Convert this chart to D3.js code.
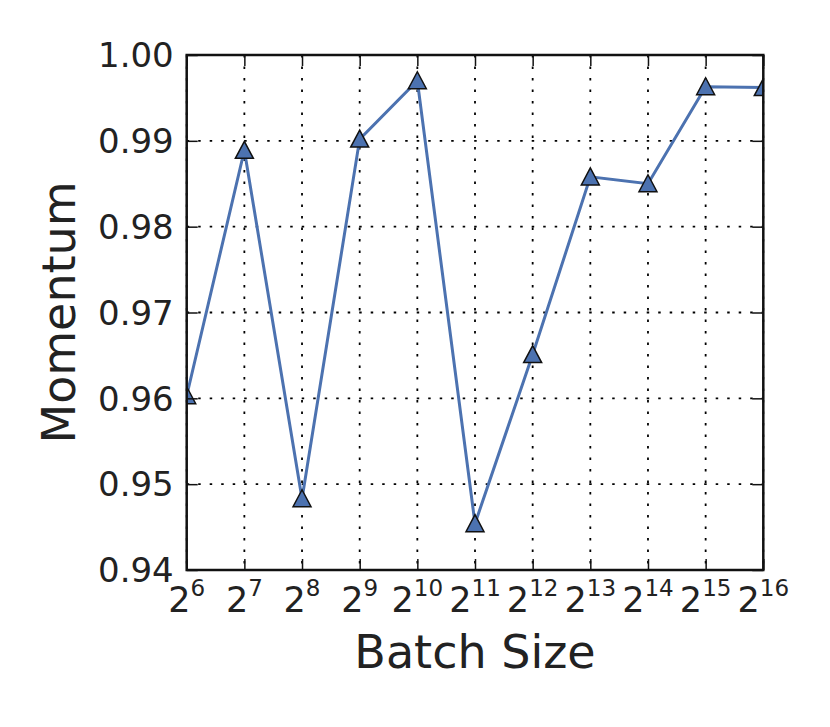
<!DOCTYPE html>
<html>
<head>
<meta charset="utf-8">
<script src="https://cdn.jsdelivr.net/npm/d3@7/dist/d3.min.js"></script>
<style>
  body { margin: 0; background: #fff; }
  text { font-family: "DejaVu Sans", sans-serif; fill: #222; }
</style>
</head>
<body>
<svg id="chart" width="830" height="727"></svg>
<script>
// batch size exponents (x = 2^exp) and fitted momentum
var exponents = [6, 7, 8, 9, 10, 11, 12, 13, 14, 15, 16];
var momentum = [0.9603, 0.9889, 0.9483, 0.9902, 0.9970, 0.9454, 0.9651, 0.9858, 0.9850, 0.9963, 0.9962];
var yTicks = [0.94, 0.95, 0.96, 0.97, 0.98, 0.99, 1.00];

var svg = d3.select("#chart"),
    margin = {top: 55, right: 66.7, bottom: 157, left: 186.7},
    width = +svg.attr("width") - margin.left - margin.right,
    height = +svg.attr("height") - margin.top - margin.bottom;

var x = d3.scaleLog().base(2)
    .domain([Math.pow(2, 6), Math.pow(2, 16)])
    .range([0, width]);
var y = d3.scaleLinear()
    .domain([0.94, 1.00])
    .range([height, 0]);

var data = exponents.map(function (e, i) {
    return {size: Math.pow(2, e), exp: e, m: momentum[i]};
});

var g = svg.append("g")
    .attr("transform", "translate(" + margin.left + "," + margin.top + ")");

svg.append("defs").append("clipPath").attr("id", "clip")
    .append("rect").attr("width", width).attr("height", height);

// dotted grid
g.append("g").selectAll("line")
    .data(exponents)
    .enter().append("line")
    .attr("x1", function (d) { return x(Math.pow(2, d)); })
    .attr("x2", function (d) { return x(Math.pow(2, d)); })
    .attr("y1", 0).attr("y2", height)
    .attr("stroke", "#000").attr("stroke-width", 1.8)
    .attr("stroke-dasharray", "2.5,9");
g.append("g").selectAll("line")
    .data(yTicks)
    .enter().append("line")
    .attr("y1", function (d) { return y(d); })
    .attr("y2", function (d) { return y(d); })
    .attr("x1", 0).attr("x2", width)
    .attr("stroke", "#000").attr("stroke-width", 1.8)
    .attr("stroke-dasharray", "2.5,9");

var plot = g.append("g").attr("clip-path", "url(#clip)");

var line = d3.line()
    .x(function (d) { return x(d.size); })
    .y(function (d) { return y(d.m); });

plot.append("path")
    .datum(data)
    .attr("d", line)
    .attr("fill", "none")
    .attr("stroke", "#4c72b0")
    .attr("stroke-width", 3);

plot.selectAll("path.marker")
    .data(data)
    .enter().append("path")
    .attr("class", "marker")
    .attr("d", "M0,-9L9,8L-9,8Z")
    .attr("transform", function (d) {
        return "translate(" + x(d.size) + "," + y(d.m) + ")";
    })
    .attr("fill", "#4c72b0")
    .attr("stroke", "#111")
    .attr("stroke-width", 1.5);

// axes with inward ticks on all sides
var tickLen = 11;
var xTickVals = exponents.map(function (e) { return Math.pow(2, e); });
g.append("g")
    .attr("transform", "translate(0," + height + ")")
    .call(d3.axisTop(x).tickValues(xTickVals).tickSize(tickLen).tickFormat(""));
g.append("g")
    .call(d3.axisBottom(x).tickValues(xTickVals).tickSize(tickLen).tickFormat(""));
g.append("g")
    .call(d3.axisRight(y).tickValues(yTicks).tickSize(tickLen).tickFormat(""));
g.append("g")
    .attr("transform", "translate(" + width + ",0)")
    .call(d3.axisLeft(y).tickValues(yTicks).tickSize(tickLen).tickFormat(""));
g.selectAll(".domain").remove();
g.selectAll(".tick line").attr("stroke", "#111").attr("stroke-width", 1.5);

g.append("rect")
    .attr("width", width).attr("height", height)
    .attr("fill", "none")
    .attr("stroke", "#111")
    .attr("stroke-width", 2.5);

// tick labels
g.selectAll("text.ylab")
    .data(yTicks)
    .enter().append("text")
    .attr("x", -13)
    .attr("y", function (d) { return y(d); })
    .attr("dy", "0.36em")
    .attr("text-anchor", "end")
    .style("font-size", "34px")
    .text(function (d) { return d3.format(".2f")(d); });

var xl = g.selectAll("text.xlab")
    .data(exponents)
    .enter().append("text")
    .attr("x", function (d) { return x(Math.pow(2, d)); })
    .attr("y", height + 42)
    .attr("text-anchor", "middle")
    .style("font-size", "35px");
xl.append("tspan").text("2");
xl.append("tspan")
    .attr("dy", -16)
    .style("font-size", "23px")
    .text(function (d) { return d; });

// axis titles
svg.append("text")
    .attr("x", margin.left + width / 2)
    .attr("y", 668)
    .attr("text-anchor", "middle")
    .style("font-size", "46px")
    .text("Batch Size");
svg.append("text")
    .attr("transform", "translate(75," + (margin.top + height / 2) + ") rotate(-90)")
    .attr("text-anchor", "middle")
    .style("font-size", "46px")
    .text("Momentum");
</script>
</body>
</html>
